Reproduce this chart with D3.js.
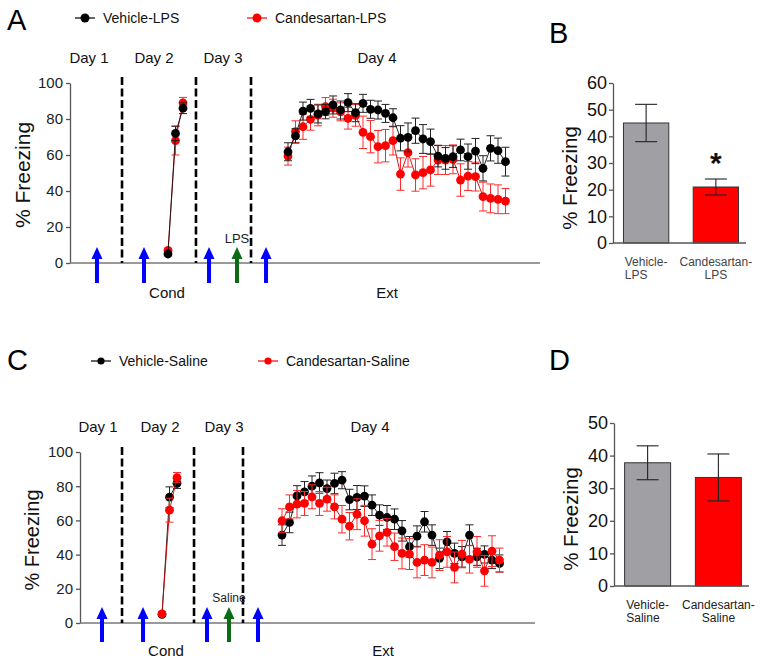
<!DOCTYPE html>
<html><head><meta charset="utf-8">
<script src="https://cdn.jsdelivr.net/npm/d3@7"></script>
<style>
body{margin:0;background:#fff}
svg{display:block}
text{font-family:"Liberation Sans",Arial,Helvetica,sans-serif}
</style>
</head><body>
<svg id="chart" width="764" height="666"></svg>
<script>
// ---------------- DATA ----------------
const day2Trials = [1, 2, 3];
const day4Trials = d3.range(1, 31);
const yTicksTC = [0, 20, 40, 60, 80, 100];
const dayLabels = ["Day 1", "Day 2", "Day 3", "Day 4"];

// Panel A
const vehLPS_d2 = [5, 72, 86];
const vehLPS_d2_err = [1, 4, 3];
const candLPS_d2 = [7, 68, 89];
const candLPS_d2_err = [1, 8, 3];
const vehLPS_d4 = [61.8,70.6,84.4,85.9,82.8,84.1,87.8,85.0,89.1,83.5,88.7,85.4,85.0,83.1,80.7,69.3,69.8,73.5,68.9,67.4,59.4,58.1,59.1,62.8,59.1,62.2,52.6,63.7,62.4,56.3];
const vehLPS_d4_err = [5,4,5,5,5,4,5,5,5,5,5,5,5,5,5,7,8,7,8,7,6,6,6,6,7,7,7,7,7,8];
const candLPS_d4 = [59.4,73.0,75.7,79.8,82.2,86.9,86.0,84.0,80.4,82.0,72.6,70.2,64.6,65.2,68.0,49.4,61.3,48.9,50.2,51.7,57.2,57.2,57.6,46.1,48.3,48.0,36.9,35.9,35.4,34.4];
const candLPS_d4_err = [5,6,7,6,6,5,5,5,6,6,9,9,9,9,8,9,8,9,9,9,8,8,8,9,8,8,8,8,8,7];

// Panel C
const vehSal_d2 = [5, 73.6, 81.7];
const vehSal_d2_err = [1, 6, 3];
const candSal_d2 = [5.3, 66, 85];
const candSal_d2_err = [1, 7, 3];
const vehSal_d4 = [51.4,58.8,74.3,76.7,80.0,81.9,78.6,81.6,83.5,72.2,73.4,74.2,68.9,63.1,61.7,60.7,53.9,44.6,50.8,59.2,51.4,37.8,47.5,40.7,38.7,51.4,38.7,40.1,36.8,34.8];
const vehSal_d4_err = [6,6,6,6,6,6,5,6,5,6,7,6,6,6,7,6,6,6,6,6,6,6,6,6,6,6,5,5,5,5];
const candSal_d4 = [59.8,67.9,69.5,69.9,73.8,69.9,72.4,67.9,60.7,56.6,63.6,59.8,46.1,51.0,53.0,44.6,40.7,40.3,35.4,36.8,35.4,39.7,41.6,32.5,40.3,37.2,41.6,30.5,42.0,36.8];
const candSal_d4_err = [7,7,8,7,7,7,7,7,8,8,9,9,9,9,8,8,9,9,9,9,9,9,9,9,8,8,9,9,9,7];

// Panel B / D bar summaries
const barGroupsB = ["Vehicle-LPS", "Candesartan-LPS"];
const barLabelsB = [["Vehicle-", "LPS"], ["Candesartan-", "LPS"]];
const barMeansB = [45, 21];
const barErrB = [7, 3];
const yTicksB = [0, 10, 20, 30, 40, 50, 60];

const barGroupsD = ["Vehicle-Saline", "Candesartan-Saline"];
const barLabelsD = [["Vehicle-", "Saline"], ["Candesartan-", "Saline"]];
const barMeansD = [37.8, 33.3];
const barErrD = [5.2, 7.2];
const yTicksD = [0, 10, 20, 30, 40, 50];

// event positions (in trial-index units: Day-2 trial 1 = 0, Day-4 trial 1 = 16)
const dividersA = [-6.13, 3.73, 11.07];
const blueArrowsA = [-9.47, -3.2, 5.47, 13.07];
const greenArrowsA = [9.2];
const dividersC = [-5.33, 4.27, 10.8];
const blueArrowsC = [-8, -2.53, 6, 12.8];
const greenArrowsC = [8.93];

// ---------------- DRAWING ----------------
const svg = d3.select("#chart");
const BLACK = "#000", RED = "#ff0000", BLUE = "#0000ff", GREEN = "#0b6b12", AXIS = "#555";

function arrowPath(x, tip, bottom) {
  const hw = 5.5, hh = 12, sw = 2;
  return `M${x-sw},${bottom}L${x-sw},${tip+hh}L${x-hw},${tip+hh}L${x},${tip}L${x+hw},${tip+hh}L${x+sw},${tip+hh}L${x+sw},${bottom}Z`;
}

function drawTimecourse(cfg) {
  const g = svg.append("g");
  const x = d3.scaleLinear().domain([0, 45]).range([cfg.x0, cfg.x0 + 45 * cfg.unit]);
  const y = d3.scaleLinear().domain([0, 100]).range([cfg.yBottom, cfg.yTop]);
  const idx2 = t => t - 1, idx4 = t => t + 15;

  // panel letter
  g.append("text").attr("x", cfg.letterX).attr("y", cfg.letterY).attr("font-size", 29).text(cfg.letter);

  // legend
  cfg.series.forEach(s => {
    const lg = g.append("g");
    lg.append("line").attr("x1", s.legX - 10).attr("x2", s.legX + 10).attr("y1", cfg.legY).attr("y2", cfg.legY)
      .attr("stroke", s.color).attr("stroke-width", 1.2);
    lg.append("circle").attr("cx", s.legX).attr("cy", cfg.legY).attr("r", cfg.legR).attr("fill", s.color);
    lg.append("text").attr("x", s.legX + cfg.legGap).attr("y", cfg.legY + 5).attr("font-size", 14).attr("fill", "#111").text(s.name);
  });

  // day labels
  dayLabels.forEach((d, i) => {
    g.append("text").attr("x", cfg.dayX[i]).attr("y", cfg.dayY).attr("text-anchor", "middle")
      .attr("font-size", 15).attr("fill", "#111").text(d);
  });

  // y axis
  const ya = g.append("g").attr("transform", `translate(${cfg.axisX},0)`)
    .call(d3.axisLeft(y).tickValues(yTicksTC).tickSize(4).tickSizeOuter(0).tickPadding(3));
  ya.select(".domain").attr("stroke", AXIS).attr("stroke-width", 1.3);
  ya.selectAll(".tick line").attr("stroke", AXIS).attr("stroke-width", 1.3);
  ya.selectAll(".tick text").attr("font-size", cfg.tickFont).attr("fill", "#222")
    .attr("font-family", '"Liberation Sans",Arial,sans-serif');

  g.append("text").attr("transform", `translate(${cfg.titleX},${cfg.titleY}) rotate(-90)`)
    .attr("text-anchor", "middle").attr("font-size", cfg.titleFont).attr("fill", "#111").text("% Freezing");

  // x axis line
  g.append("line").attr("x1", cfg.axisX).attr("x2", cfg.axisRight).attr("y1", cfg.yBottom).attr("y2", cfg.yBottom)
    .attr("stroke", "#777").attr("stroke-width", 1.5);

  // dividers
  cfg.dividers.forEach(d => {
    g.append("line").attr("x1", x(d)).attr("x2", x(d)).attr("y1", cfg.divTop).attr("y2", cfg.yBottom)
      .attr("stroke", "#000").attr("stroke-width", 2.6).attr("stroke-dasharray", "8,3.5");
  });

  // arrows
  cfg.blue.forEach(d => g.append("path").attr("d", arrowPath(x(d), cfg.arrowTip, cfg.arrowBottom)).attr("fill", BLUE));
  cfg.green.forEach(d => g.append("path").attr("d", arrowPath(x(d), cfg.arrowTip, cfg.arrowBottom)).attr("fill", GREEN));

  g.append("text").attr("x", x(cfg.green[0])).attr("y", cfg.treatY).attr("text-anchor", "middle")
    .attr("font-size", cfg.treatFont).attr("fill", "#222").text(cfg.treatment);
  g.append("text").attr("x", cfg.condX).attr("y", cfg.bottomLabelY).attr("text-anchor", "middle")
    .attr("font-size", 15).attr("fill", "#111").text("Cond");
  g.append("text").attr("x", cfg.extX).attr("y", cfg.bottomLabelY).attr("text-anchor", "middle")
    .attr("font-size", 15).attr("fill", "#111").text("Ext");

  // series
  const line = d3.line().x(d => x(d.i)).y(d => y(d.v));
  cfg.series.forEach(s => {
    const segs = [
      day2Trials.map((t, k) => ({ i: idx2(t), v: s.d2[k], e: s.d2e[k] })),
      day4Trials.map((t, k) => ({ i: idx4(t), v: s.d4[k], e: s.d4e[k] }))
    ];
    const sg = g.append("g");
    segs.forEach(seg => {
      sg.append("path").attr("d", line(seg)).attr("fill", "none").attr("stroke", s.lineColor).attr("stroke-width", 0.9);
      seg.forEach(d => {
        const cx = x(d.i), y1 = y(d.v + d.e), y2 = y(d.v - d.e);
        sg.append("line").attr("x1", cx).attr("x2", cx).attr("y1", y1).attr("y2", y2).attr("stroke", s.errColor).attr("stroke-width", 1);
        sg.append("line").attr("x1", cx - 4).attr("x2", cx + 4).attr("y1", y1).attr("y2", y1).attr("stroke", s.errColor).attr("stroke-width", 1);
        sg.append("line").attr("x1", cx - 4).attr("x2", cx + 4).attr("y1", y2).attr("y2", y2).attr("stroke", s.errColor).attr("stroke-width", 1);
      });
      sg.selectAll(null).data(seg).enter().append("circle")
        .attr("cx", d => x(d.i)).attr("cy", d => y(d.v)).attr("r", 4.4).attr("fill", s.color);
    });
  });
}

function drawBars(cfg) {
  const g = svg.append("g");
  const x = d3.scaleBand().domain(cfg.groups).range([cfg.axisX, cfg.axisRight]).paddingInner(0.35).paddingOuter(0.15);
  const y = d3.scaleLinear().domain([0, cfg.yMax]).range([cfg.yBottom, cfg.yTop]);

  g.append("text").attr("x", cfg.letterX).attr("y", cfg.letterY).attr("font-size", 29).text(cfg.letter);

  const ya = g.append("g").attr("transform", `translate(${cfg.axisX},0)`)
    .call(d3.axisLeft(y).tickValues(cfg.ticks).tickSize(4).tickSizeOuter(0).tickPadding(2));
  ya.select(".domain").attr("stroke", AXIS).attr("stroke-width", 1.3);
  ya.selectAll(".tick line").attr("stroke", AXIS).attr("stroke-width", 1.3);
  ya.selectAll(".tick text").attr("font-size", 18).attr("fill", "#111")
    .attr("font-family", '"Liberation Sans",Arial,sans-serif');

  g.append("text").attr("transform", `translate(${cfg.titleX},${cfg.titleY}) rotate(-90)`)
    .attr("text-anchor", "middle").attr("font-size", 20.5).attr("fill", "#111").text("% Freezing");

  cfg.groups.forEach((grp, i) => {
    const x0 = x(grp), w = x.bandwidth(), cx = x0 + w / 2;
    g.append("rect").attr("x", x0).attr("y", y(cfg.means[i])).attr("width", w).attr("height", y(0) - y(cfg.means[i]))
      .attr("fill", cfg.colors[i]).attr("stroke", "#333").attr("stroke-width", 1);
    const yt = y(cfg.means[i] + cfg.errs[i]), yb = y(cfg.means[i] - cfg.errs[i]);
    g.append("line").attr("x1", cx).attr("x2", cx).attr("y1", yt).attr("y2", yb).attr("stroke", "#222").attr("stroke-width", 1.1);
    [yt, yb].forEach(yy => g.append("line").attr("x1", cx - 11).attr("x2", cx + 11).attr("y1", yy).attr("y2", yy)
      .attr("stroke", "#222").attr("stroke-width", 1.1));
    // labels
    const lines = cfg.labels[i];
    const t1 = g.append("text").attr("x", cx).attr("y", cfg.labelY).attr("text-anchor", "middle")
      .attr("font-size", 12).attr("fill", cfg.labelColor).text(lines[0]);
    if (i === 0) {
      const w1 = t1.node().getComputedTextLength();
      g.append("text").attr("x", cx - w1 / 2).attr("y", cfg.labelY + 13).attr("text-anchor", "start")
        .attr("font-size", 12).attr("fill", cfg.labelColor).text(lines[1]);
    } else {
      g.append("text").attr("x", cx).attr("y", cfg.labelY + 13).attr("text-anchor", "middle")
        .attr("font-size", 12).attr("fill", cfg.labelColor).text(lines[1]);
    }
    if (cfg.star && cfg.star[i]) {
      g.append("text").attr("x", cx).attr("y", yt - 6).attr("text-anchor", "middle")
        .attr("font-size", 30).attr("font-weight", "bold").attr("fill", "#111").text(cfg.star[i]);
    }
  });

  g.append("line").attr("x1", cfg.axisX).attr("x2", cfg.axisRight - 3).attr("y1", cfg.yBottom).attr("y2", cfg.yBottom)
    .attr("stroke", AXIS).attr("stroke-width", 1.3);
}

// Panel A
drawTimecourse({
  letter: "A", letterX: 7, letterY: 30,
  legY: 18, legR: 4.5, legGap: 18,
  x0: 168, unit: 7.5, yTop: 83, yBottom: 263, axisX: 70, axisRight: 540,
  tickFont: 15, titleFont: 21, titleX: 30, titleY: 175,
  dayX: [89, 154, 223, 377], dayY: 63,
  divTop: 77, dividers: dividersA, blue: blueArrowsA, green: greenArrowsA,
  arrowTip: 247, arrowBottom: 283,
  treatment: "LPS", treatY: 243, treatFont: 13,
  condX: 167, extX: 387, bottomLabelY: 298,
  series: [
    { name: "Candesartan-LPS", color: RED, lineColor: "#c00", errColor: "#ff2a2a", legX: 257, d2: candLPS_d2, d2e: candLPS_d2_err, d4: candLPS_d4, d4e: candLPS_d4_err },
    { name: "Vehicle-LPS", color: BLACK, lineColor: "#111", errColor: "#222", legX: 85, d2: vehLPS_d2, d2e: vehLPS_d2_err, d4: vehLPS_d4, d4e: vehLPS_d4_err }
  ]
});

// Panel C
drawTimecourse({
  letter: "C", letterX: 7, letterY: 370,
  legY: 361, legR: 3.6, legGap: 18,
  x0: 162, unit: 7.5, yTop: 452, yBottom: 623, axisX: 80, axisRight: 535,
  tickFont: 15, titleFont: 20, titleX: 39, titleY: 540,
  dayX: [98, 160, 224, 370], dayY: 432,
  divTop: 447, dividers: dividersC, blue: blueArrowsC, green: greenArrowsC,
  arrowTip: 607, arrowBottom: 642,
  treatment: "Saline", treatY: 602, treatFont: 12,
  condX: 166, extX: 383, bottomLabelY: 656,
  series: [
    { name: "Vehicle-Saline", color: BLACK, lineColor: "#111", errColor: "#222", legX: 101, d2: vehSal_d2, d2e: vehSal_d2_err, d4: vehSal_d4, d4e: vehSal_d4_err },
    { name: "Candesartan-Saline", color: RED, lineColor: "#c00", errColor: "#ff2a2a", legX: 268, d2: candSal_d2, d2e: candSal_d2_err, d4: candSal_d4, d4e: candSal_d4_err }
  ]
});

// Panel B
drawBars({
  letter: "B", letterX: 549, letterY: 43,
  groups: barGroupsB, labels: barLabelsB, means: barMeansB, errs: barErrB,
  colors: ["#a0a0a4", RED], yMax: 60, ticks: yTicksB,
  axisX: 613, axisRight: 749, yTop: 83, yBottom: 243,
  titleX: 577, titleY: 178, labelY: 266, labelColor: "#444",
  star: [null, "*"]
});

// Panel D
drawBars({
  letter: "D", letterX: 549, letterY: 370,
  groups: barGroupsD, labels: barLabelsD, means: barMeansD, errs: barErrD,
  colors: ["#a0a0a4", RED], yMax: 50, ticks: yTicksD,
  axisX: 614, axisRight: 752, yTop: 423, yBottom: 586,
  titleX: 578, titleY: 519, labelY: 609, labelColor: "#222",
  star: null
});
</script>
</body></html>
